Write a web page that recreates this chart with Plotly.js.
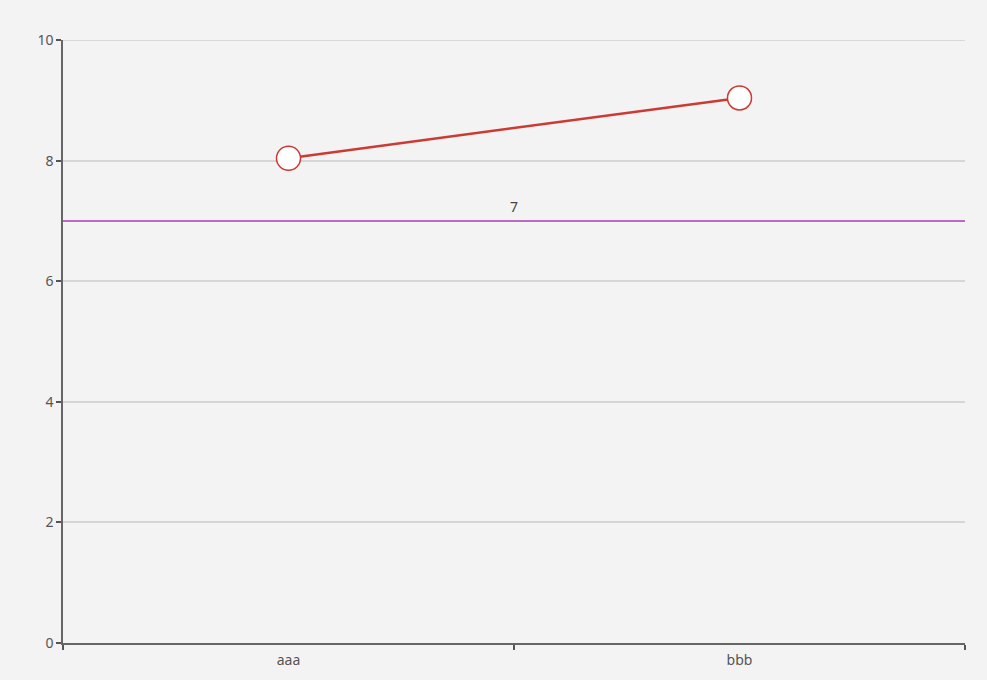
<!DOCTYPE html>
<html>
<head>
<meta charset="utf-8">
<script src="https://cdn.plot.ly/plotly-3.0.1.min.js"></script>
<style>html,body{margin:0;padding:0;background:#f3f3f3;}#chart{width:987px;height:680px;}</style>
</head>
<body>
<div id="chart"></div>
<script>
const categories = ['aaa', 'bbb'];
const values = [8.04, 9.04];
const markLineValue = 7;
const yTickVals = [0, 2, 4, 6, 8, 10];

const trace = {
  type: 'scatter',
  mode: 'lines+markers',
  x: categories,
  y: values,
  line: {color: '#cc3a33', width: 2.5},
  marker: {size: 24, color: '#ffffff', line: {color: '#cc3a33', width: 1.5}},
  hoverinfo: 'x+y',
  cliponaxis: false
};

const layout = {
  width: 987, height: 680,
  paper_bgcolor: '#f3f3f3', plot_bgcolor: '#f3f3f3',
  margin: {l: 63, r: 22, t: 40, b: 37},
  showlegend: false,
  font: {family: 'Noto Sans, sans-serif', size: 14, color: '#555'},
  xaxis: {
    type: 'category', tickson: 'boundaries', range: [-0.5, 1.5],
    showgrid: false, showline: true, linecolor: '#666', linewidth: 1.5,
    ticks: 'outside', ticklen: 5, tickcolor: '#555', tickwidth: 1.5,
    ticklabelstandoff: 3,
    zeroline: false, tickfont: {size: 14, color: '#555'}
  },
  yaxis: {
    range: [0, 10], tickvals: yTickVals,
    showgrid: true, gridcolor: '#d6d6d6', gridwidth: 1.5,
    showline: true, linecolor: '#666', linewidth: 1.5,
    ticks: 'outside', ticklen: 5, tickcolor: '#555', tickwidth: 1.5,
    zeroline: false, tickfont: {size: 14, color: '#555'}
  },
  shapes: [{
    type: 'line', xref: 'paper', x0: 0, x1: 1, yref: 'y', y0: yTickVals[yTickVals.length - 1], y1: yTickVals[yTickVals.length - 1],
    line: {color: '#d0d0d0', width: 1.5}, layer: 'above'
  }, {
    type: 'line', xref: 'paper', x0: 0, x1: 1, yref: 'y', y0: markLineValue, y1: markLineValue,
    line: {color: '#a63cb4', width: 1.5}
  }],
  annotations: [{
    xref: 'paper', x: 0.5, yref: 'y', y: markLineValue, text: String(markLineValue),
    showarrow: false, yanchor: 'bottom', yshift: 3,
    font: {size: 14, color: '#444'}
  }]
};

Plotly.newPlot('chart', [trace], layout, {displayModeBar: false, responsive: false});
</script>
</body>
</html>
